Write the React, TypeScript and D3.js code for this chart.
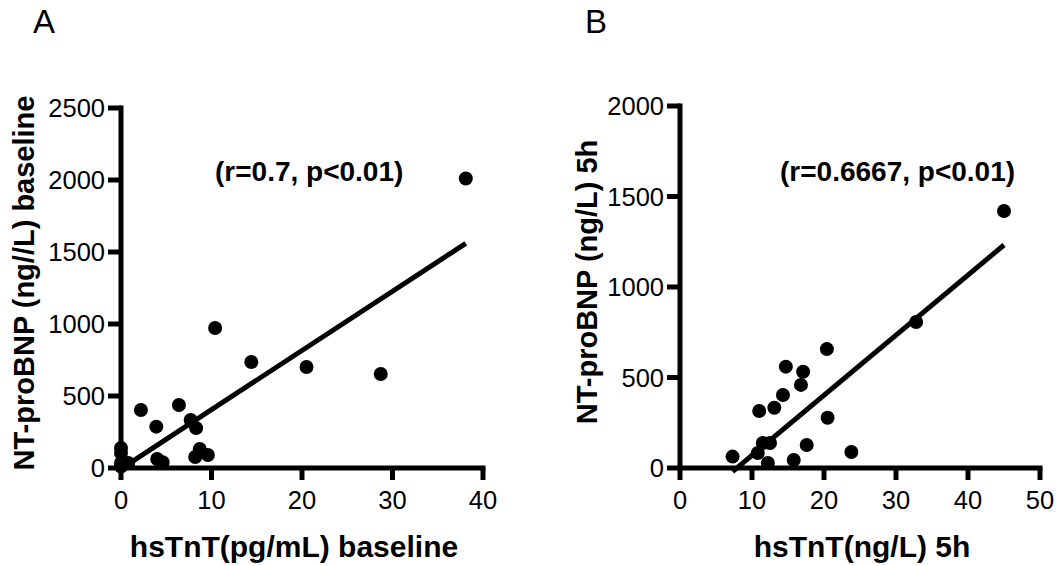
import React from "react";
import * as d3 from "d3";

// Panel A: hsTnT baseline vs NT-proBNP baseline
const pointsA: [number, number][] = [
  [0, 139], [0, 104], [0, 35], [0.8, 35], [0, 10],
  [2.2, 403], [3.9, 287], [4.0, 62], [4.6, 40], [6.4, 437],
  [7.7, 333], [8.3, 277], [8.7, 132], [8.2, 76], [9.6, 90],
  [10.4, 972], [14.4, 736], [20.5, 701], [28.7, 653], [38.1, 2010],
];
const fitA = { slope: 41.1, intercept: -6, from: 0, to: 38.1 };
const xTicksA = [0, 10, 20, 30, 40];
const yTicksA = [0, 500, 1000, 1500, 2000, 2500];

// Panel B: hsTnT 5h vs NT-proBNP 5h
const pointsB: [number, number][] = [
  [7.3, 63], [10.8, 83], [11.5, 138], [12.5, 138], [12.2, 28],
  [11.0, 315], [13.1, 333], [14.3, 403], [14.7, 560], [16.8, 459],
  [17.1, 532], [15.8, 44], [17.6, 127], [20.4, 657], [20.5, 278],
  [23.8, 88], [32.8, 807], [45.0, 1420],
];
const fitB = { slope: 33.2, intercept: -262, from: 7.3, to: 45 };
const xTicksB = [0, 10, 20, 30, 40, 50];
const yTicksB = [0, 500, 1000, 1500, 2000];

const FONT = "'Liberation Sans', Arial, sans-serif";
const SW = 5;

type PanelProps = {
  letter: string;
  letterX: number;
  points: [number, number][];
  fit: { slope: number; intercept: number; from: number; to: number };
  xTicks: number[];
  yTicks: number[];
  xRange: [number, number];
  yRange: [number, number];
  xTitle: string;
  xTitleDx: number;
  yTitle: string;
  yTitleX: number;
  note: string;
  noteX: number;
};

const Panel = (p: PanelProps) => {
  const x = d3
    .scaleLinear()
    .domain([p.xTicks[0], p.xTicks[p.xTicks.length - 1]])
    .range(p.xRange);
  const y = d3
    .scaleLinear()
    .domain([p.yTicks[0], p.yTicks[p.yTicks.length - 1]])
    .range(p.yRange);

  const line = d3
    .line<number>()
    .x((d) => x(d))
    .y((d) => y(p.fit.slope * d + p.fit.intercept));

  const x0 = p.xRange[0];
  const y0 = p.yRange[0];
  const xMid = (p.xRange[0] + p.xRange[1]) / 2;
  const yMid = (p.yRange[0] + p.yRange[1]) / 2;

  return (
    <g>
      <text x={p.letterX} y={33} fontSize={33} fontFamily={FONT}>
        {p.letter}
      </text>

      {/* axes */}
      <line x1={x0} x2={x0} y1={p.yRange[1] - 2.5} y2={y0 + 2.5} stroke="#000" strokeWidth={SW} />
      <line x1={x0 - 2.5} x2={p.xRange[1] + 2.5} y1={y0} y2={y0} stroke="#000" strokeWidth={SW} />

      {p.yTicks.map((t) => (
        <g key={"y" + t}>
          <line x1={x0 - 13} x2={x0} y1={y(t)} y2={y(t)} stroke="#000" strokeWidth={SW} />
          <text
            x={x0 - 16}
            y={y(t)}
            dy="0.36em"
            textAnchor="end"
            fontSize={25.5}
            fontFamily={FONT}
          >
            {t}
          </text>
        </g>
      ))}

      {p.xTicks.map((t) => (
        <g key={"x" + t}>
          <line x1={x(t)} x2={x(t)} y1={y0} y2={y0 + 12} stroke="#000" strokeWidth={SW} />
          <text x={x(t)} y={508.5} textAnchor="middle" fontSize={25.5} fontFamily={FONT}>
            {t}
          </text>
        </g>
      ))}

      <text
        x={xMid + p.xTitleDx}
        y={557}
        textAnchor="middle"
        fontSize={30}
        fontWeight="bold"
        fontFamily={FONT}
      >
        {p.xTitle}
      </text>
      <text
        transform={`translate(${p.yTitleX},${yMid - 5}) rotate(-90)`}
        textAnchor="middle"
        fontSize={29}
        fontWeight="bold"
        fontFamily={FONT}
      >
        {p.yTitle}
      </text>

      <text x={p.noteX} y={181} fontSize={28} fontWeight="bold" fontFamily={FONT}>
        {p.note}
      </text>

      <path
        d={line([p.fit.from, p.fit.to]) || ""}
        stroke="#000"
        strokeWidth={SW}
        fill="none"
      />

      {p.points.map((d, i) => (
        <circle key={i} cx={x(d[0])} cy={y(d[1])} r={7} fill="#000" />
      ))}
    </g>
  );
};

export default function App() {
  return (
    <svg
      width={1059}
      height={566}
      style={{ position: "absolute", left: 0, top: 0, background: "#fff" }}
    >
      <Panel
        letter="A"
        letterX={33}
        points={pointsA}
        fit={fitA}
        xTicks={xTicksA}
        yTicks={yTicksA}
        xRange={[121, 483]}
        yRange={[468, 108]}
        xTitle="hsTnT(pg/mL) baseline"
        xTitleDx={-8}
        yTitle="NT-proBNP (ng//L) baseline"
        yTitleX={34}
        note="(r=0.7, p<0.01)"
        noteX={215}
      />
      <Panel
        letter="B"
        letterX={585}
        points={pointsB}
        fit={fitB}
        xTicks={xTicksB}
        yTicks={yTicksB}
        xRange={[680, 1040]}
        yRange={[468, 106]}
        xTitle="hsTnT(ng/L) 5h"
        xTitleDx={2}
        yTitle="NT-proBNP (ng/L) 5h"
        yTitleX={597}
        note="(r=0.6667, p<0.01)"
        noteX={780}
      />
    </svg>
  );
}
